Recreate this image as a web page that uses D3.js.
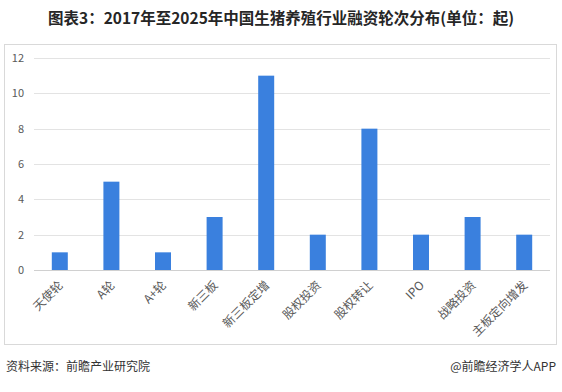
<!DOCTYPE html>
<html><head><meta charset="utf-8">
<script src="https://cdn.jsdelivr.net/npm/d3@7"></script>
<style>body{margin:0;background:#fff;}svg{display:block;}</style>
</head><body>
<script>
const categories = ["天使轮","A轮","A+轮","新三板","新三板定增","股权投资","股权转让","IPO","战略投资","主板定向增发"];
const values = [1,5,1,3,11,2,8,2,3,2];
const yTicks = [0,2,4,6,8,10,12];
const title = "图表3：2017年至2025年中国生猪养殖行业融资轮次分布(单位：起)";
const source = "资料来源：前瞻产业研究院";
const brand = "@前瞻经济学人APP";

const W = 562, H = 392;
const svg = d3.select("body").append("svg").attr("width", W).attr("height", H);
const font = "'Microsoft YaHei','Noto Sans CJK SC',sans-serif";

svg.append("text").attr("x", W/2).attr("y", 24).attr("text-anchor","middle")
  .attr("font-family", font).attr("font-weight","bold").attr("font-size", 15.5).attr("fill","#262626").text(title);

svg.append("rect").attr("x", 4.5).attr("y", 44.5).attr("width", 552).attr("height", 300)
  .attr("fill","none").attr("stroke","#d9d9d9");

const x = d3.scaleBand().domain(categories).range([34, 550]).paddingInner(0.69).paddingOuter(0.345);
const y = d3.scaleLinear().domain([0, 12]).range([270, 58]);

const g = svg.append("g");
g.selectAll("line.grid").data(yTicks).join("line").attr("class","grid")
  .attr("x1", 34).attr("x2", 550).attr("y1", d => Math.round(y(d))+0.5).attr("y2", d => Math.round(y(d))+0.5)
  .attr("stroke", d => d===0 ? "#d0d0d0" : "#e3e3e3");

g.selectAll("text.yt").data(yTicks).join("text").attr("class","yt")
  .attr("x", 24).attr("y", d => y(d)+4).attr("text-anchor","end")
  .attr("font-family", font).attr("font-size", 11).attr("fill","#595959").text(d => d);

g.selectAll("rect.bar").data(values).join("rect").attr("class","bar")
  .attr("x", (d,i) => x(categories[i])).attr("width", x.bandwidth())
  .attr("y", d => y(d)).attr("height", d => y(0)-y(d)).attr("fill","#3a80de");

g.selectAll("text.xt").data(categories).join("text").attr("class","xt")
  .attr("transform", d => `translate(${x(d)+x.bandwidth()/2+4},${286}) rotate(-45)`)
  .attr("text-anchor","end").attr("font-family", font).attr("font-size", 12).attr("fill","#595959").text(d => d);

svg.append("text").attr("x", 6).attr("y", 371).attr("font-family", font).attr("font-size", 12).attr("fill","#333").text(source);
svg.append("text").attr("x", 556).attr("y", 371).attr("text-anchor","end").attr("font-family", font).attr("font-size", 12).attr("fill","#333").text(brand);
</script>
</body></html>
